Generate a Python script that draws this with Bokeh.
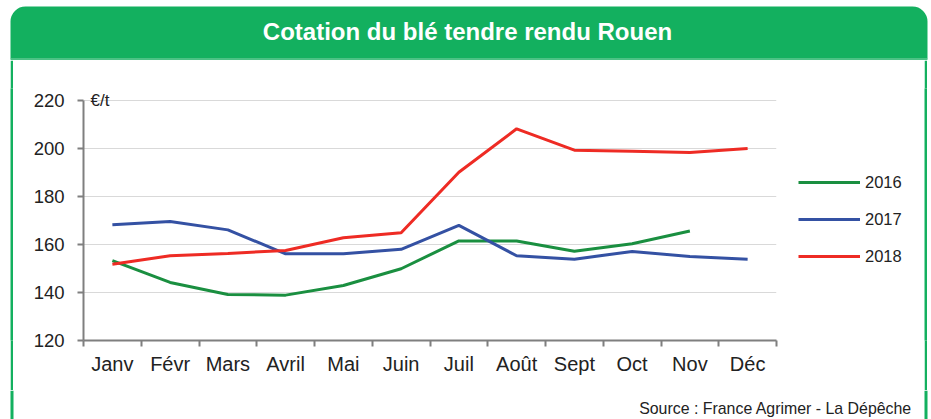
from bokeh.plotting import figure
from bokeh.layouts import column, row
from bokeh.models import Range1d, FixedTicker, Legend, LegendItem, Label, BoxAnnotation, ColumnDataSource
from bokeh.embed import file_html
from bokeh.resources import INLINE

months = ["Janv", "Févr", "Mars", "Avril", "Mai", "Juin", "Juil", "Août", "Sept", "Oct", "Nov", "Déc"]
nan = float("nan")
v2016 = [153.3, 144.2, 139.2, 138.9, 142.9, 149.9, 161.5, 161.5, 157.2, 160.3, 165.6, nan]
v2017 = [168.2, 169.6, 166.1, 156.1, 156.1, 158.0, 168.0, 155.3, 153.9, 157.1, 155.0, 153.9]
v2018 = [151.8, 155.3, 156.3, 157.5, 162.8, 164.9, 190.1, 208.2, 199.3, 198.9, 198.3, 200.0]
series = [("2016", v2016, "#1a8f40"), ("2017", v2017, "#3451a3"), ("2018", v2018, "#ee2b24")]
y_ticks = [120, 140, 160, 180, 200, 220]
title_text = "Cotation du blé tendre rendu Rouen"
source_text = "Source : France Agrimer -  La Dépêche"
unit_text = "€/t"

GREEN = "#13b05f"
FONT = "Liberation Sans"
TXT = "#222222"
W, H = 931, 419
HEAD_H, MAIN_H = 60, 330
FOOT_H = H - HEAD_H - MAIN_H


def canvas_fig(w, h, color="white"):
    f = figure(width=w, height=h, x_range=Range1d(0, w), y_range=Range1d(h, 0),
               x_axis_type=None, y_axis_type=None, output_backend="svg",
               toolbar_location=None, min_border=0)
    f.outline_line_color = None
    f.background_fill_color = color
    f.border_fill_color = color
    f.grid.visible = False
    return f


def side_lines(f, top, bottom):
    for l, r in ((10, 13), (924, 927)):
        f.add_layout(BoxAnnotation(left=l, right=r, top=top, bottom=bottom,
                                   fill_color=GREEN, fill_alpha=1, line_color=None))


# ---- header ----
head = canvas_fig(W, HEAD_H)
head.add_layout(BoxAnnotation(left=10, right=927, top=6, bottom=58,
                              fill_color=GREEN, fill_alpha=1, line_color=None,
                              border_radius=(15, 15, 0, 0)))
head.add_layout(BoxAnnotation(left=10, right=927, top=57.5, bottom=59.5,
                              fill_color="#4cc285", fill_alpha=1, line_color=None))
side_lines(head, 59.5, HEAD_H)
head.add_layout(Label(x=467, y=31, text=title_text, text_font=FONT, text_font_style="bold",
                      text_font_size="24px", text_color="white",
                      text_align="center", text_baseline="middle"))

# ---- main chart ----
xs = [i + 0.5 for i in range(len(months))]
P_W = 765
p = figure(width=P_W, height=MAIN_H, x_range=Range1d(0, len(months)), y_range=Range1d(120, 225),
           output_backend="svg", toolbar_location=None,
           min_border_left=70, min_border_right=2, min_border_top=28, min_border_bottom=50)
p.outline_line_color = None
p.background_fill_color = "white"
p.border_fill_color = "white"

sources = []
for name, vals, col in series:
    src = ColumnDataSource(dict(x=xs, y=vals))
    p.line("x", "y", source=src, line_color=col, line_width=3)
    sources.append(src)

ax = p.xaxis[0]
ax.ticker = FixedTicker(ticks=xs, minor_ticks=list(range(len(months) + 1)))
ax.major_label_overrides = {x: m for x, m in zip(xs, months)}
ax.major_tick_line_color = None
ax.minor_tick_line_color = "#7f7f7f"
ax.minor_tick_line_width = 2
ax.minor_tick_out = 6
ax.minor_tick_in = 0
ax.axis_line_color = "#7f7f7f"
ax.axis_line_width = 2
ax.major_label_text_font = FONT
ax.major_label_text_font_size = "20px"
ax.major_label_text_color = TXT
ax.major_label_standoff = 6

ay = p.yaxis[0]
ay.ticker = FixedTicker(ticks=y_ticks)
ay.bounds = (120, 220)
ay.minor_tick_line_color = None
ay.major_tick_line_color = "#7f7f7f"
ay.major_tick_line_width = 2
ay.major_tick_out = 6
ay.major_tick_in = 0
ay.axis_line_color = "#7f7f7f"
ay.axis_line_width = 2
ay.major_label_text_font = FONT
ay.major_label_text_font_size = "18.5px"
ay.major_label_text_color = TXT
ay.major_label_standoff = 13

p.xgrid.visible = False
p.ygrid.grid_line_color = "#d9d9d9"
p.ygrid.grid_line_width = 1

p.add_layout(Label(x=0, y=220, text=unit_text, x_offset=7,
                   text_font=FONT, text_font_size="17px", text_color=TXT,
                   text_align="left", text_baseline="middle"))

# ---- legend panel (same sources, lines hidden; the legend draws the swatches) ----
LEG_W = W - 10 - 3 - P_W - 3 - 4
leg = canvas_fig(LEG_W, MAIN_H)
items = []
for (name, vals, col), src in zip(series, sources):
    r = leg.line("x", "y", source=src, line_color=col, line_width=3, visible=False)
    items.append(LegendItem(label=name, renderers=[r]))
legend = Legend(items=items, location=(20, 74), orientation="vertical",
                glyph_width=62, glyph_height=20, label_height=20, spacing=17, padding=0, margin=0,
                label_standoff=5, border_line_color=None, background_fill_alpha=0,
                label_text_font=FONT, label_text_font_size="16.5px", label_text_color=TXT)
leg.add_layout(legend, "center")

main_row = row(canvas_fig(10, MAIN_H), canvas_fig(3, MAIN_H, GREEN), p, leg,
               canvas_fig(3, MAIN_H, GREEN), canvas_fig(4, MAIN_H), spacing=0)

# ---- footer ----
foot = canvas_fig(W, FOOT_H)
side_lines(foot, 0, FOOT_H)
foot.add_layout(Label(x=916, y=17.5, text=source_text, text_font=FONT, text_font_size="15.9px",
                      text_color=TXT, text_align="right", text_baseline="alphabetic"))

layout = column(head, main_row, foot, spacing=0)

open("out.html", "w").write(file_html(layout, INLINE))
